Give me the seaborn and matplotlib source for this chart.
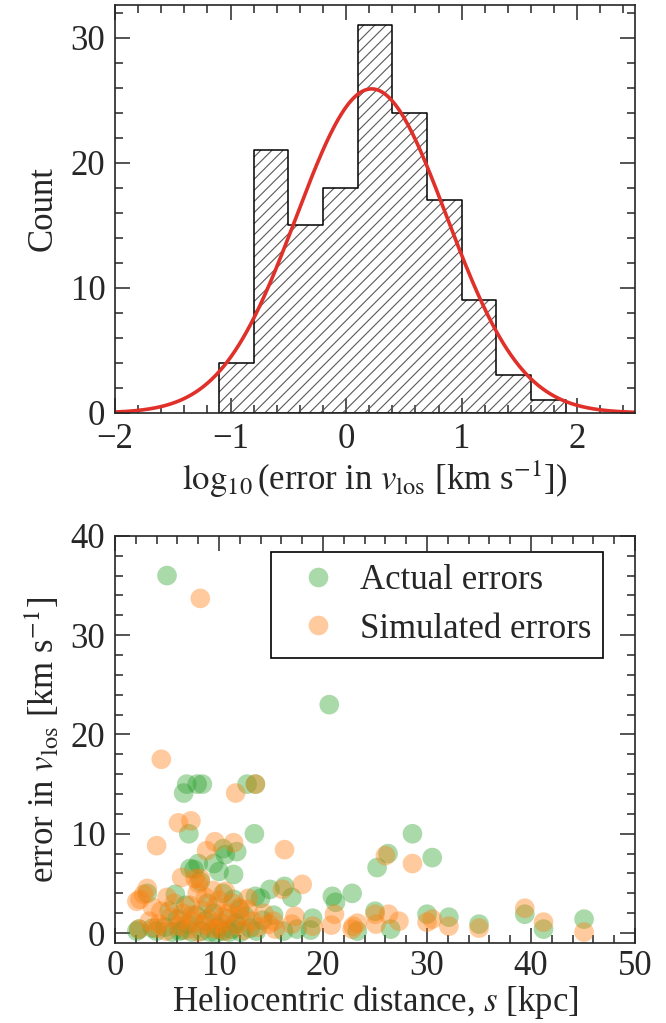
import numpy as np
import pandas as pd
import matplotlib
matplotlib.use("Agg")
import matplotlib.pyplot as plt
from matplotlib.ticker import MultipleLocator
import seaborn as sns

# histogram of log10(error in v_los): bin edges and counts
bin_edges = [-1.10, -0.80, -0.50, -0.20, 0.10, 0.40, 0.70, 1.00, 1.30, 1.60, 1.90]
bin_counts = [4, 21, 15, 18, 31, 24, 17, 9, 3, 1]

# gaussian fit drawn over the histogram
fit_mu = 0.22
fit_sigma = 0.65
fit_peak = 25.9

# scatter: heliocentric distance [kpc] vs error in v_los [km/s]
actual_s = [5.0, 20.6, 6.9, 7.9, 8.4, 6.6, 12.7, 13.5, 7.1, 13.4,
            10.4, 10.6, 11.7, 8.0, 7.6, 9.5, 10.0, 11.4, 8.2, 7.2,
            28.6, 26.25, 25.2, 30.5,
            3.1, 5.8, 10.4, 11.4, 13.5, 14.9, 14.0, 16.3, 17.0, 20.9, 21.2, 22.8,
            15.25, 16.2, 17.5, 19.0, 18.8, 23.3, 25.0, 26.5, 30.0, 32.1, 35.0, 39.4, 41.2, 45.1,
            2.3, 2.1,
            4.0, 4.8, 5.5, 6.0, 6.5, 7.0, 7.4, 7.8, 8.3, 8.7, 9.1, 9.5, 9.9, 10.3, 10.8,
            11.2, 11.6, 12.1, 12.5, 13.0, 13.6, 14.2, 5.2, 6.8, 8.9, 12.0, 3.6, 9.7, 11.0, 6.2]
actual_err = [36.0, 23.0, 15.0, 15.0, 15.0, 14.1, 15.0, 15.0, 10.0, 10.0,
              8.5, 7.9, 8.2, 7.0, 6.4, 7.0, 6.2, 5.9, 5.2, 6.5,
              10.0, 8.0, 6.6, 7.6,
              4.0, 3.9, 4.0, 3.4, 3.7, 4.4, 3.5, 4.7, 3.6, 3.7, 3.1, 4.0,
              1.8, 0.2, 0.4, 1.5, 0.3, 0.2, 2.2, 0.4, 1.9, 1.6, 0.9, 1.9, 0.4, 1.4,
              0.4, 0.2,
              0.2, 0.6, 0.1, 1.4, 0.3, 0.9, 0.1, 1.8, 0.2, 1.2, 0.1, 2.0, 0.6, 0.2, 1.5,
              0.4, 1.0, 0.1, 1.7, 0.5, 0.2, 1.3, 2.2, 2.8, 3.0, 2.4, 0.5, 0.0, 0.1, 0.2]

sim_s = [8.2, 4.45, 13.5, 11.6, 6.1, 7.3, 4.0, 16.3, 9.6, 11.4, 8.8, 26.0, 28.6,
         6.4, 7.7, 8.0, 8.2, 18.0, 3.1, 2.4, 3.6, 10.6, 12.8, 16.1, 2.75, 2.1,
         21.1, 20.8, 22.9, 19.0, 25.0, 25.1, 26.3, 27.3, 30.0, 30.5, 32.1, 35.0, 39.4, 41.2, 45.1,
         15.25, 15.4, 17.3, 17.0, 23.3, 22.8, 2.3,
         3.3, 3.9, 4.4, 4.9, 5.3, 5.7, 6.1, 6.5, 6.9, 7.2, 7.6, 8.0, 8.4, 8.7, 9.0, 9.3,
         9.7, 10.0, 10.2, 10.6, 10.9, 11.3, 11.7, 12.0, 12.4, 12.8, 13.2, 13.7, 14.3, 14.8,
         5.0, 7.9, 9.4, 6.3, 8.6, 10.4, 11.9, 4.2, 9.9, 7.4]
sim_err = [33.7, 17.5, 15.0, 14.1, 11.1, 11.3, 8.8, 8.4, 9.2, 9.1, 8.3, 7.8, 7.0,
           5.6, 5.5, 5.0, 5.5, 4.9, 4.5, 3.4, 2.6, 4.2, 3.5, 4.4, 3.9, 3.2,
           1.9, 0.8, 0.7, 0.7, 1.9, 0.9, 1.9, 1.2, 1.1, 1.4, 0.7, 0.5, 2.5, 1.1, 0.1,
           1.2, 0.4, 1.7, 0.9, 1.0, 0.4, 0.4,
           1.2, 0.5, 2.2, 0.2, 1.6, 3.0, 0.7, 2.0, 0.3, 2.8, 1.1, 0.1, 2.3, 3.6, 1.4, 0.5,
           2.6, 3.3, 1.0, 0.2, 2.0, 3.0, 0.8, 1.7, 0.3, 2.4, 1.2, 0.6, 2.0, 0.9,
           3.6, 4.0, 4.3, 1.3, 0.9, 1.6, 2.6, 0.9, 0.4, 1.8]

sns.set_style("ticks")
plt.rcParams["font.family"] = ["Liberation Serif", "DejaVu Serif"]
plt.rcParams["mathtext.fontset"] = "stix"
plt.rcParams["font.size"] = 25
plt.rcParams["axes.linewidth"] = 1.2
plt.rcParams["hatch.linewidth"] = 0.8

fig = plt.figure(figsize=(6.66, 10.23), dpi=100)
ax1 = fig.add_axes([0.1727, 0.5963, 0.7808, 0.3988])
ax2 = fig.add_axes([0.1727, 0.0782, 0.7808, 0.3980])

# top panel: hatched step histogram + gaussian
centers = [(a + b) / 2 for a, b in zip(bin_edges[:-1], bin_edges[1:])]
sns.histplot(x=centers, weights=bin_counts, bins=bin_edges, element="step", fill=True,
             color="0.35", linewidth=0, ax=ax1)
hatch_layer = ax1.collections[-1]
hatch_layer.set_facecolor("none")
hatch_layer.set_edgecolor("0.35")
hatch_layer.set_hatch("///")
hatch_layer.set_linewidth(0)
sns.histplot(x=centers, weights=bin_counts, bins=bin_edges, element="step", fill=True,
             color="black", linewidth=1.1, ax=ax1)
outline = ax1.collections[-1]
outline.set_facecolor("none")
outline.set_edgecolor("black")

xg = np.linspace(-2, 2.5, 400)
yg = fit_peak * np.exp(-0.5 * ((xg - fit_mu) / fit_sigma) ** 2)
sns.lineplot(x=xg, y=yg, color="#e0302a", linewidth=2.6, ax=ax1)

ax1.set_xlim(-2, 2.5)
ax1.set_ylim(0, 32.6)
ax1.xaxis.set_major_locator(MultipleLocator(1))
ax1.xaxis.set_minor_locator(MultipleLocator(0.2))
ax1.yaxis.set_major_locator(MultipleLocator(10))
ax1.yaxis.set_minor_locator(MultipleLocator(2))
ax1.set_xlabel(r"$\log_{10}$(error in $v_{\rm los}$ [km s$^{-1}$])", labelpad=2)
ax1.set_ylabel("Count", labelpad=8)

# bottom panel: scatter
df = pd.DataFrame({
    "s": actual_s + sim_s,
    "err": actual_err + sim_err,
    "kind": ["Actual errors"] * len(actual_s) + ["Simulated errors"] * len(sim_s),
})
sns.scatterplot(data=df, x="s", y="err", hue="kind",
                palette={"Actual errors": "#2ca02c", "Simulated errors": "#ff7f0e"},
                alpha=0.4, s=200, linewidth=0, ax=ax2)
ax2.set_xlim(0, 50)
ax2.set_ylim(-1, 40)
ax2.xaxis.set_major_locator(MultipleLocator(10))
ax2.xaxis.set_minor_locator(MultipleLocator(2))
ax2.yaxis.set_major_locator(MultipleLocator(10))
ax2.yaxis.set_minor_locator(MultipleLocator(2))
ax2.set_xlabel(r"Heliocentric distance, $s$ [kpc]", labelpad=0)
ax2.set_ylabel(r"error in $v_{\rm los}$ [km s$^{-1}$]", labelpad=6)
leg = ax2.legend(loc="upper right", bbox_to_anchor=(0.9385, 0.9607), borderaxespad=0,
                 fancybox=False, framealpha=1, edgecolor="black", fontsize=25,
                 handletextpad=0.2, borderpad=0.35, labelspacing=0.45, handlelength=2.0)
leg.get_frame().set_linewidth(1.2)

for ax in (ax1, ax2):
    ax.tick_params(which="both", direction="in", top=True, right=True, width=1.1,
                   labelsize=25, pad=7)
    ax.tick_params(which="major", length=11)
    ax.tick_params(which="minor", length=5.5)
ax2.tick_params(axis="x", pad=5)

fig.savefig("out.png", dpi=100)
